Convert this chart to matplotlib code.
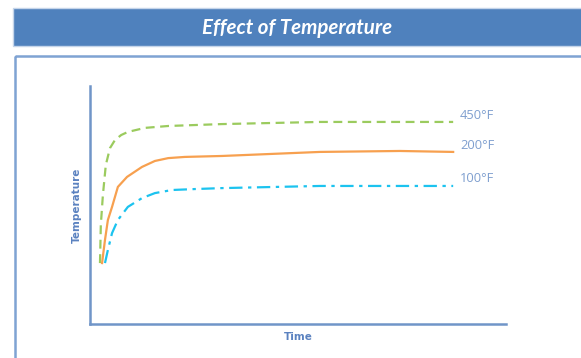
import matplotlib.pyplot as plt
from matplotlib.patches import Rectangle

# Temperature response curves (arbitrary units, time 0-100, temperature 0-100)
green_time = [2.4, 2.6, 3.1, 3.8, 4.8, 6.0, 7.5, 9.1, 13.2, 18.8, 31.7, 55.3, 87.3]
green_temp = [25.6, 41.6, 54.2, 66.8, 73.9, 77.3, 79.4, 80.7, 82.4, 83.2, 84.0, 84.9, 84.9]

orange_time = [2.9, 3.6, 4.3, 5.3, 6.7, 8.9, 12.5, 15.6, 18.8, 22.8, 31.7, 55.3, 74.5, 87.3]
orange_temp = [25.6, 35.3, 43.7, 49.2, 57.6, 61.8, 66.0, 68.5, 69.7, 70.2, 70.6, 72.3, 72.7, 72.3]

blue_time = [3.6, 4.3, 5.3, 6.7, 9.1, 12.5, 15.6, 19.7, 25.2, 31.7, 55.3, 87.3]
blue_temp = [25.6, 31.1, 38.2, 43.7, 49.2, 52.9, 55.0, 56.3, 56.7, 57.1, 58.0, 58.0]

series_labels = ["450°F", "200°F", "100°F"]
label_pos = [(88.9, 87.8), (88.9, 75.2), (88.9, 61.3)]

W, H = 581, 358
fig = plt.figure(figsize=(W / 100, H / 100), dpi=100)

# title banner and frame, in pixel-ish figure coords
bg = fig.add_axes([0, 0, 1, 1])
bg.set_xlim(0, W)
bg.set_ylim(H, 0)
bg.axis("off")
bg.add_patch(Rectangle((13, 8), W, 38, facecolor="#4F81BD", edgecolor="#C5D5EA", lw=1))
bg.text(297, 28, "Effect of Temperature", color="white", fontsize=14.8,
        fontweight="bold", fontstyle="italic", family="Lato", ha="center", va="center")
bg.add_patch(Rectangle((14.5, 55.5), W, H, facecolor="none", edgecolor="#7FA3D3", lw=1.8))

ax = fig.add_axes([90 / W, (H - 324) / H, (506 - 90) / W, (324 - 86) / H])
ax.set_xlim(0, 100)
ax.set_ylim(0, 100)
ax.patch.set_alpha(0)
for side in ["top", "right"]:
    ax.spines[side].set_visible(False)
for side in ["left", "bottom"]:
    ax.spines[side].set_color("#7095C8")
    ax.spines[side].set_linewidth(1.8)
ax.set_xticks([])
ax.set_yticks([])

ax.plot(green_time, green_temp, color="#9BCB5E", lw=1.6, ls=(0, (4, 2.5)))
ax.plot(orange_time, orange_temp, color="#F7A04F", lw=1.6, ls="-")
ax.plot(blue_time, blue_temp, color="#1CC3EF", lw=1.6, ls=(0, (6, 2.5, 1.5, 2.5)))

for lab, (x, y) in zip(series_labels, label_pos):
    ax.text(x, y, lab, color="#7F9FCF", fontsize=9.3, family="Open Sans",
            ha="left", va="center")

ax.set_xlabel("Time", color="#5B82C0", fontsize=7.5, fontweight="bold", labelpad=6)
ax.set_ylabel("Temperature", color="#5B82C0", fontsize=7.5, fontweight="bold", labelpad=6)

fig.savefig("out.png", dpi=100)
